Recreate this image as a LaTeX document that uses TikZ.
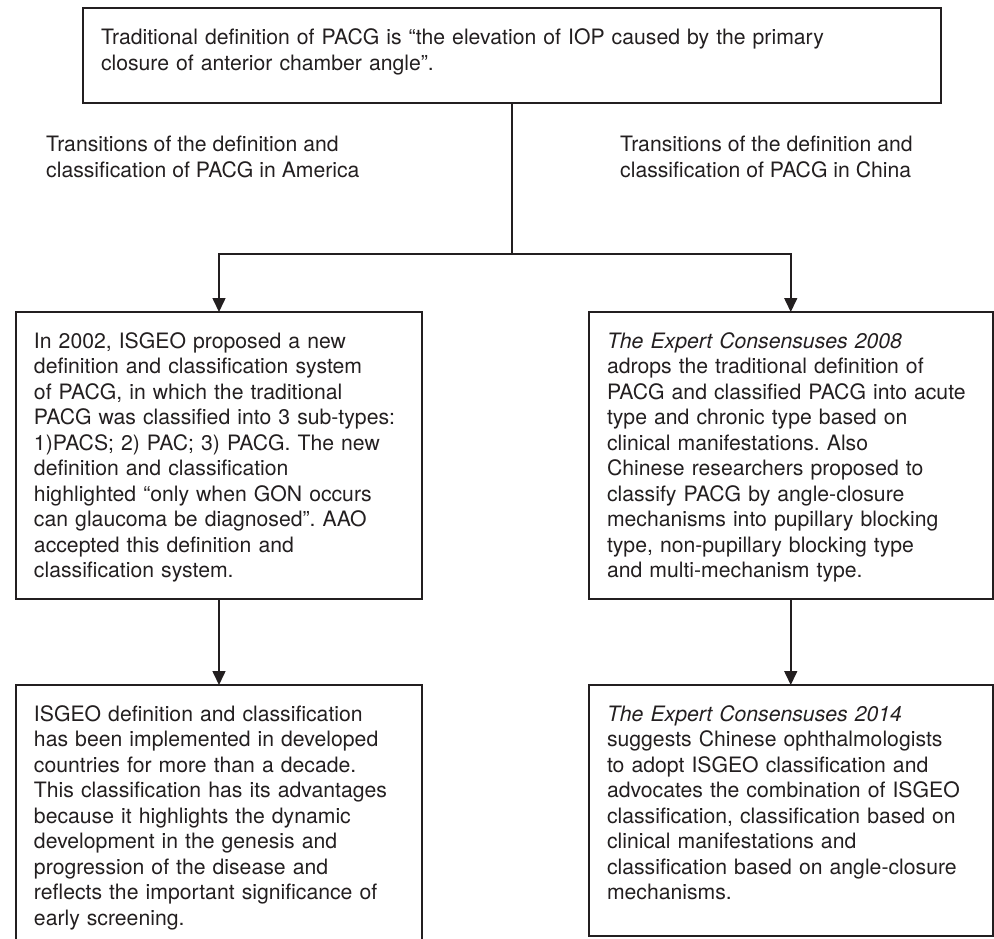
\documentclass[tikz,border=0pt]{standalone}
\usepackage{fontspec}
\setmainfont{TeX Gyre Heros}
\usetikzlibrary{arrows.meta}
\definecolor{ink}{HTML}{231F20}
\begin{document}
\begin{tikzpicture}[x=1pt,y=-1pt,
  txt/.style={font=\fontsize{21.2}{25.5}\selectfont\frenchspacing, text=ink, align=left},
  box/.style={txt, draw=ink, line width=2pt, anchor=north west, outer sep=0pt,
    inner xsep=18pt, inner ysep=18.5pt, text height=17.85pt},
  lab/.style={txt, anchor=north west, inner sep=0pt, text height=17.85pt},
  conn/.style={draw=ink, line width=1.6pt},
  arr/.style={conn, -{Triangle[length=14pt,width=13pt]}}]
\useasboundingbox (0,0) rectangle (994,939);
\clip (0,0) rectangle (994,939);

\node[box, inner ysep=19pt, text width=822pt, text depth=39.15pt] (top) at (83,8)
 {Traditional definition of PACG is “the elevation of IOP caused by the primary\\
  closure of anterior chamber angle”.};

\node[lab] (labL) at (46,159.15)
 {Transitions of the definition and\\ classification of PACG in America};
\node[lab] (labR) at (620,159.15)
 {Transitions of the definition and\\ classification of PACG in China};

\node[box, text width=370pt, text depth=232.15pt] (ul) at (16,312)
 {In 2002, ISGEO proposed a new\\
  definition and classification system\\
  of PACG, in which the traditional\\
  PACG was classified into 3 sub-types:\\
  1)PACS; 2) PAC; 3) PACG. The new\\
  definition and classification\\
  highlighted “only when GON occurs\\
  can glaucoma be diagnosed”. AAO\\
  accepted this definition and\\
  classification system.};

\node[box, text width=367.5pt, text depth=232.15pt] (ur) at (589,312)
 {{\itshape The Expert Consensuses 2008}\\
  adrops the traditional definition of\\
  PACG and classified PACG into acute\\
  type and chronic type based on\\
  clinical manifestations. Also\\
  Chinese researchers proposed to\\
  classify PACG by angle-closure\\
  mechanisms into pupillary blocking\\
  type, non-pupillary blocking type\\
  and multi-mechanism type.};

\node[box, text width=370pt, text depth=240pt] (ll) at (16,685)
 {ISGEO definition and classification\\
  has been implemented in developed\\
  countries for more than a decade.\\
  This classification has its advantages\\
  because it highlights the dynamic\\
  development in the genesis and\\
  progression of the disease and\\
  reflects the important significance of\\
  early screening.};

\node[box, text width=367.5pt, text depth=196.15pt] (lr) at (589,685)
 {{\itshape The Expert Consensuses 2014}\\
  suggests Chinese ophthalmologists\\
  to adopt ISGEO classification and\\
  advocates the combination of ISGEO\\
  classification, classification based on\\
  clinical manifestations and\\
  classification based on angle-closure\\
  mechanisms.};

\coordinate (j) at (512,254);
\draw[conn] (top.south) -- (j);
\draw[arr] (j) -| (ul.north);
\draw[arr] (j) -| (ur.north);
\draw[arr] (ul.south) -- (ll.north);
\draw[arr] (ur.south) -- (lr.north);
\end{tikzpicture}
\end{document}
